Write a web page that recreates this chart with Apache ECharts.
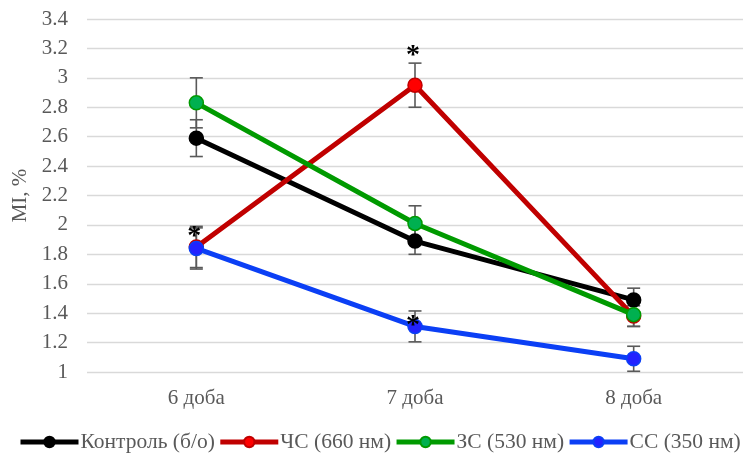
<!DOCTYPE html>
<html><head><meta charset="utf-8">
<script src="https://cdn.jsdelivr.net/npm/echarts@6/dist/echarts.min.js"></script>
<style>html,body{margin:0;padding:0;background:#fff}#c{width:743px;height:457px}</style>
</head><body><div id="c"></div>
<script>
const categories = ['6 доба', '7 доба', '8 доба'];
const seriesNames = ['Контроль (б/о)', 'ЧС (660 нм)', 'ЗС (530 нм)', 'СС (350 нм)'];
const control = [2.59, 1.89, 1.49];
const red660 = [1.85, 2.95, 1.38];
const green530 = [2.83, 2.01, 1.39];
const blue350 = [1.84, 1.31, 1.09];
const controlErr = [0.125, 0.09, 0.08];
const red660Err = [0.14, 0.15, 0.07];
const green530Err = [0.17, 0.12, 0.08];
const blue350Err = [0.14, 0.105, 0.085];
const yTicks = [1, 1.2, 1.4, 1.6, 1.8, 2, 2.2, 2.4, 2.6, 2.8, 3, 3.2, 3.4];
// asterisk markers: [category index, value]
const asterisks = [[0, 1.95], [1, 3.175], [1, 1.34]];

const lineColors = ['#000000', '#C00000', '#009A00', '#0B3FF5'];
const markerColors = ['#000000', '#FF0000', '#00B050', '#2222FF'];
const vals = [control, red660, green530, blue350];
const errs = [controlErr, red660Err, green530Err, blue350Err];

const font = '"Liberation Serif", "Times New Roman", serif';
const fs = 21;
const chart = echarts.init(document.getElementById('c'), null, {renderer: 'canvas'});

const series = [];
vals.forEach((v, i) => {
  series.push({
    type: 'custom',
    name: seriesNames[i] + '_err',
    data: v.map((y, k) => [k, y - errs[i][k], y + errs[i][k]]),
    z: 1,
    silent: true,
    renderItem: function (params, api) {
      const lo = api.coord([api.value(0), api.value(1)]);
      const hi = api.coord([api.value(0), api.value(2)]);
      const w = 6.5;
      const st = {stroke: '#595959', lineWidth: 1.6};
      return {type: 'group', children: [
        {type: 'line', shape: {x1: lo[0], y1: lo[1], x2: hi[0], y2: hi[1]}, style: st},
        {type: 'line', shape: {x1: lo[0] - w, y1: lo[1], x2: lo[0] + w, y2: lo[1]}, style: st},
        {type: 'line', shape: {x1: hi[0] - w, y1: hi[1], x2: hi[0] + w, y2: hi[1]}, style: st}
      ]};
    }
  });
});
vals.forEach((v, i) => {
  series.push({
    type: 'line',
    name: seriesNames[i],
    data: v,
    z: 3 + i,
    symbol: 'circle',
    symbolSize: 14,
    lineStyle: {color: lineColors[i], width: 5},
    itemStyle: {color: markerColors[i], borderColor: lineColors[i], borderWidth: 1.5},
    emphasis: {disabled: true}
  });
});
series.push({
  type: 'custom',
  name: 'asterisk',
  data: asterisks,
  z: 10,
  silent: true,
  renderItem: function (params, api) {
    const p = api.coord([api.value(0), api.value(1)]);
    return {type: 'text', x: p[0] - 2, y: p[1] + 4, style: {
      text: '*', fill: '#000', font: 'bold 28px ' + font, align: 'center', verticalAlign: 'middle'}};
  }
});

chart.setOption({
  animation: false,
  backgroundColor: '#fff',
  grid: {left: 87, right: 0, top: 19, bottom: 85},
  legend: {
    data: seriesNames,
    bottom: 4,
    left: 18,
    padding: 0,
    itemWidth: 58,
    itemHeight: 13,
    itemGap: 3,
    lineStyle: {width: 5},
    textStyle: {fontFamily: font, fontSize: 21.5, color: '#595959', padding: [0, 0, 0, -3]}
  },
  xAxis: {
    type: 'category',
    data: categories,
    axisLine: {show: false},
    axisTick: {show: false},
    axisLabel: {fontFamily: font, fontSize: fs, color: '#595959', margin: 16}
  },
  yAxis: {
    type: 'value',
    min: yTicks[0],
    max: yTicks[yTicks.length - 1],
    interval: 0.2,
    name: 'MI, %',
    nameLocation: 'middle',
    nameGap: 56,
    nameTextStyle: {fontFamily: font, fontSize: fs, color: '#595959'},
    axisLine: {show: false},
    axisTick: {show: false},
    axisLabel: {fontFamily: font, fontSize: fs, color: '#595959', margin: 19,
      formatter: v => String(Math.round(v * 10) / 10)},
    splitLine: {lineStyle: {color: '#D9D9D9', width: 1.3}}
  },
  series: series
});
</script></body></html>
